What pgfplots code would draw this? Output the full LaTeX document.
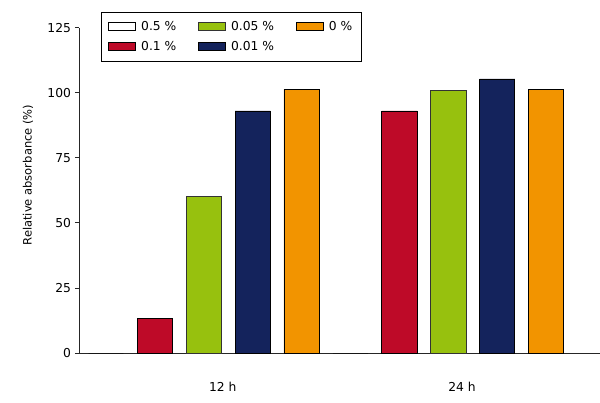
\documentclass[border=0pt]{standalone}
\usepackage{fontspec}
\setmainfont{DejaVu Sans}
\usepackage{pgfplots}
\pgfplotsset{compat=1.18}

\definecolor{barRed}{RGB}{190,10,40}
\definecolor{barGreen}{RGB}{151,193,14}
\definecolor{barNavy}{RGB}{20,35,92}
\definecolor{barOrange}{RGB}{242,148,0}

\begin{document}
\fontsize{11.5bp}{13.5bp}\selectfont
\begin{tikzpicture}
\path[use as bounding box] (-79bp,-50bp) rectangle (521bp,353bp);
\begin{axis}[
    at={(0,0)}, anchor=south west,
    scale only axis,
    width=521bp, height=325.3bp,
    ybar,
    bar width=0.72,
    every axis plot/.append style={
        bar shift=0pt,
        line width=0.8bp,
        legend image code/.code={\draw[##1, line width=0.8bp] (0bp,-4bp) rectangle (27bp,4bp);},
    },
    xmin=-0.55, xmax=10.1,
    ymin=0, ymax=125,
    axis x line=bottom, axis y line=left,
    axis line style={-, line width=0.8bp, black!85},
    ytick={0,25,...,125},
    tick align=outside,
    major tick length=4bp,
    ytick style={line width=0.8bp, black!85},
    xtick={2.39,7.28},
    xticklabels={12 h, 24 h},
    xtick style={draw=none},
    xticklabel style={anchor=center, yshift=-30bp},
    tick label style={font=\fontsize{12.3bp}{14bp}\selectfont},
    /pgf/number format/assume math mode=true,
    ylabel={Relative absorbance (\%)},
    ylabel style={at={(axis description cs:-0.098,0.547)}, anchor=center},
    legend style={
        at={(axis description cs:0.0422,1.048)}, anchor=north west,
        draw=black, line width=0.8bp,
        font=\fontsize{12.3bp}{14bp}\selectfont,
        inner xsep=7bp, inner ysep=7bp,
        /tikz/every odd column/.append style={column sep=3bp},
        /tikz/every even column/.append style={column sep=20bp},
        row sep=5bp,
    },
    transpose legend,
    legend columns=2,
    legend cell align=left,
]
\addplot[fill=white, draw=black] coordinates {(0,0) (5,0)};
\addlegendentry{0.5 \%}
\addplot[fill=barRed, draw=black] coordinates {(1,13.3) (6,93)};
\addlegendentry{0.1 \%}
\addplot[fill=barGreen, draw=black!80] coordinates {(2,60.3) (7,100.8)};
\addlegendentry{0.05 \%}
\addplot[fill=barNavy, draw=black] coordinates {(3,93) (8,105.3)};
\addlegendentry{0.01 \%}
\addplot[fill=barOrange, draw=black] coordinates {(4,101.3) (9,101.3)};
\addlegendentry{0 \%}
\end{axis}
\end{tikzpicture}
\end{document}
